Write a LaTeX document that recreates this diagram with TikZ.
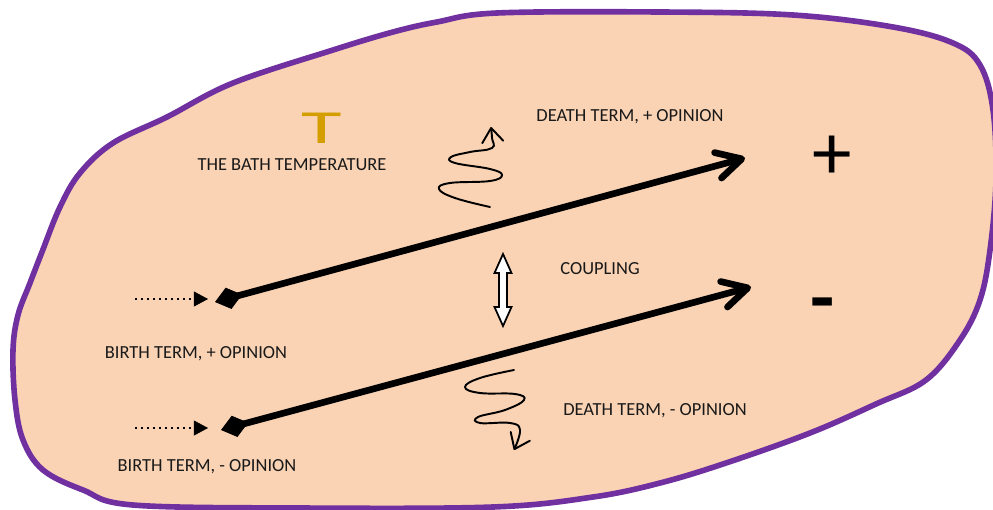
\documentclass[tikz,border=0pt]{standalone}
\usepackage{fontspec}
\setmainfont{Carlito}
\usepackage{tikz}
\usetikzlibrary{arrows.meta,positioning}
\definecolor{bathfill}{HTML}{FAD3B4}
\definecolor{bathedge}{HTML}{7030A0}
\definecolor{tempgold}{HTML}{D49E00}

\begin{document}
\begin{tikzpicture}[
    x=0.02cm, y=-0.02cm,
    term/.style={font=\fontsize{10.5}{12}\selectfont, inner sep=0pt, text=black!90},
    sign/.style={font=\fontsize{45}{45}\selectfont, inner sep=0pt},
    tempsym/.style={font=\fontsize{27}{27}\selectfont, text=tempgold, inner sep=0pt, xscale=1.75},
    flow/.style={line width=3.8pt, {Diamond[length=16pt,width=12.5pt,line width=0.5pt]}-{Straight Barb[length=14pt,width=15pt,round]}},
    feed/.style={line width=1.2pt, dash pattern=on 1.2pt off 2.2pt, -{Triangle[length=8pt,width=8.5pt,line width=0.3pt]}},
    wiggle/.style={line width=1.1pt, line cap=round, -{Straight Barb[length=8pt,width=12pt,round]}},
    link/.style={draw, fill=white, line width=1pt, line join=miter}
]
\useasboundingbox (0,0) rectangle (993,510);

% The bath (hand drawn blob)
\draw[bathedge, line width=3.2pt, fill=bathfill] plot[smooth cycle, tension=0.6] coordinates {
    (497,13) (660,12) (793,15) (893,27) (953,43) (980,65) (993,110) (996,180)
    (990,250) (980,300) (960,340) (926,380) (876,404) (810,433) (726,463)
    (660,483) (593,497) (493,507) (300,508) (133,505) (83,490) (43,470)
    (23,440) (15,400) (13,350) (18,315) (30,283) (42,252) (60,207) (80,173)
    (113,143) (167,117) (233,83) (333,50) (393,32) (437,22)};

% Temperature
\node[term] (bathlbl) at (292,165) {THE BATH TEMPERATURE};
\node[tempsym, above=0.3cm of bathlbl, xshift=0.34cm] (temp) {T};

% Opinion channels
\coordinate (pstart) at (215,302);
\coordinate (pend) at (745,158);
\coordinate (mstart) at (221,430);
\coordinate (mend) at (751,287);
\draw[flow] (pstart) -- (pend);
\draw[flow] (mstart) -- (mend);

\node[sign, right=1.35cm of pend] (plus) {+};
\node[sign, font=\fontsize{45}{45}\selectfont\bfseries] (minus) at (823,311) {-};

% Birth terms
\coordinate (ptail) at (135,299);
\coordinate (phead) at (208,299);
\coordinate (mtail) at (135,428);
\coordinate (mhead) at (208,428);
\draw[feed] (ptail) -- (phead);
\draw[feed] (mtail) -- (mhead);
\node[term] (birthp) at (196,354) {BIRTH TERM, + OPINION};
\node[term] (birthm) at (207,467) {BIRTH TERM, - OPINION};

% Death terms
\draw[wiggle] plot[smooth, tension=0.7] coordinates {
    (490,207) (455,198) (439,189) (450,183) (490,181) (502,175) (490,169)
    (455,163) (451,157) (470,152) (492,148) (492,138) (491,127)};
\draw[wiggle] plot[smooth, tension=0.7] coordinates {
    (514,370) (480,378) (465,387) (480,393) (515,394) (524,400) (505,410)
    (478,417) (480,423) (510,423) (520,430) (514,450)};
\node[term] (deathp) at (630,117) {DEATH TERM, + OPINION};
\node[term] (deathm) at (655,411) {DEATH TERM, - OPINION};

% Coupling
\draw[link] (503,254) -- (511.5,273) -- (507,273) -- (507,307) -- (511.5,307)
    -- (503,326) -- (494.5,307) -- (499,307) -- (499,273) -- (494.5,273) -- cycle;
\node[term] (coupling) at (600,269) {COUPLING};

\end{tikzpicture}
\end{document}
